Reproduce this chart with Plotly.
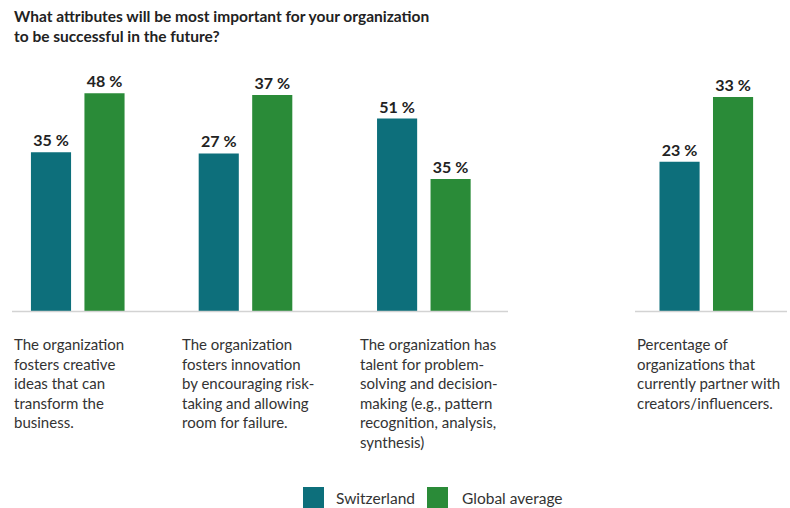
import plotly.graph_objects as go

# ---- data ----
categories = [
    "The organization<br>fosters creative<br>ideas that can<br>transform the<br>business.",
    "The organization<br>fosters innovation<br>by encouraging risk-<br>taking and allowing<br>room for failure.",
    "The organization has<br>talent for problem-<br>solving and decision-<br>making (e.g., pattern<br>recognition, analysis,<br>synthesis)",
    "Percentage of<br>organizations that<br>currently partner with<br>creators/influencers.",
]
series_names = ["Switzerland", "Global average"]
switzerland = [35, 27, 51, 23]
global_avg = [48, 37, 35, 33]
title_text = "What attributes will be most important for your organization<br>to be successful in the future?"

# ---- style ----
W, H = 790, 508
T, B = 60, 197
PH = H - T - B  # plot height in px
BASE = H - B    # baseline px
colors = ["#0d6f7b", "#2a8b38"]
panel_mid = [77.75, 245.5, 423.85, 706.3]   # px centre of each panel
unit_px = 53.5
panel_ymax = [55.3, 43.0, 66.5, 38.7]       # each panel drawn on its own scale
label_x = [12, 180, 358, 635]
FONT = "Lato"


def px_x(px):
    return px / W


def px_y(py):
    return (BASE - py) / PH


fig = go.Figure()
values = [switzerland, global_avg]
for i in range(len(categories)):
    ax = "" if i == 0 else str(i + 1)
    for s, name in enumerate(series_names):
        fig.add_trace(go.Bar(
            x=[s], y=[values[s][i]], name=name,
            xaxis="x" + ax, yaxis="y" + ax,
            marker=dict(color=colors[s], line=dict(width=0)),
            width=0.75,
            texttemplate="%{y} %", textposition="outside",
            textfont=dict(family=FONT, size=16, color="#222222", weight="bold"),
            cliponaxis=False, showlegend=False,
        ))
    lo = px_x(panel_mid[i] - unit_px)
    hi = px_x(panel_mid[i] + unit_px)
    fig.layout["xaxis" + ax] = dict(domain=[lo, hi], range=[-0.5, 1.5], visible=False,
                                    anchor="y" + ax, fixedrange=True)
    fig.layout["yaxis" + ax] = dict(domain=[0, 1], range=[0, panel_ymax[i]], visible=False,
                                    anchor="x" + ax, fixedrange=True)

# baselines
for x0, x1 in [(12, 508), (635, 787)]:
    fig.add_shape(type="line", xref="paper", yref="paper",
                  x0=px_x(x0), x1=px_x(x1), y0=px_y(BASE + 0.5), y1=px_y(BASE + 0.5),
                  line=dict(color="#d3d3d3", width=1.5))

# category labels
for i, cat in enumerate(categories):
    fig.add_annotation(text=cat, xref="paper", yref="paper",
                       x=px_x(label_x[i]), y=px_y(333), xanchor="left", yanchor="top",
                       align="left", showarrow=False,
                       font=dict(family=FONT, size=15, color="#333333"))

# title
fig.add_annotation(text="<b>" + title_text + "</b>", xref="paper", yref="paper",
                   x=px_x(12), y=px_y(5), xanchor="left", yanchor="top", align="left",
                   showarrow=False, font=dict(family=FONT, size=15.5, color="#222222"))

# legend (custom large swatches)
leg = [(303, 334), (427, 460)]
for s, name in enumerate(series_names):
    sx, tx = leg[s]
    fig.add_shape(type="rect", xref="paper", yref="paper",
                  x0=px_x(sx), x1=px_x(sx + 21), y0=px_y(487), y1=px_y(509),
                  fillcolor=colors[s], line=dict(width=0))
    fig.add_annotation(text=name, xref="paper", yref="paper",
                       x=px_x(tx), y=px_y(498), xanchor="left", yanchor="middle",
                       showarrow=False, font=dict(family=FONT, size=15.5, color="#333333"))

fig.update_layout(
    width=W, height=H,
    margin=dict(l=0, r=0, t=T, b=B),
    paper_bgcolor="white", plot_bgcolor="white",
    barmode="overlay", showlegend=False,
)

fig.write_html("out.html")
